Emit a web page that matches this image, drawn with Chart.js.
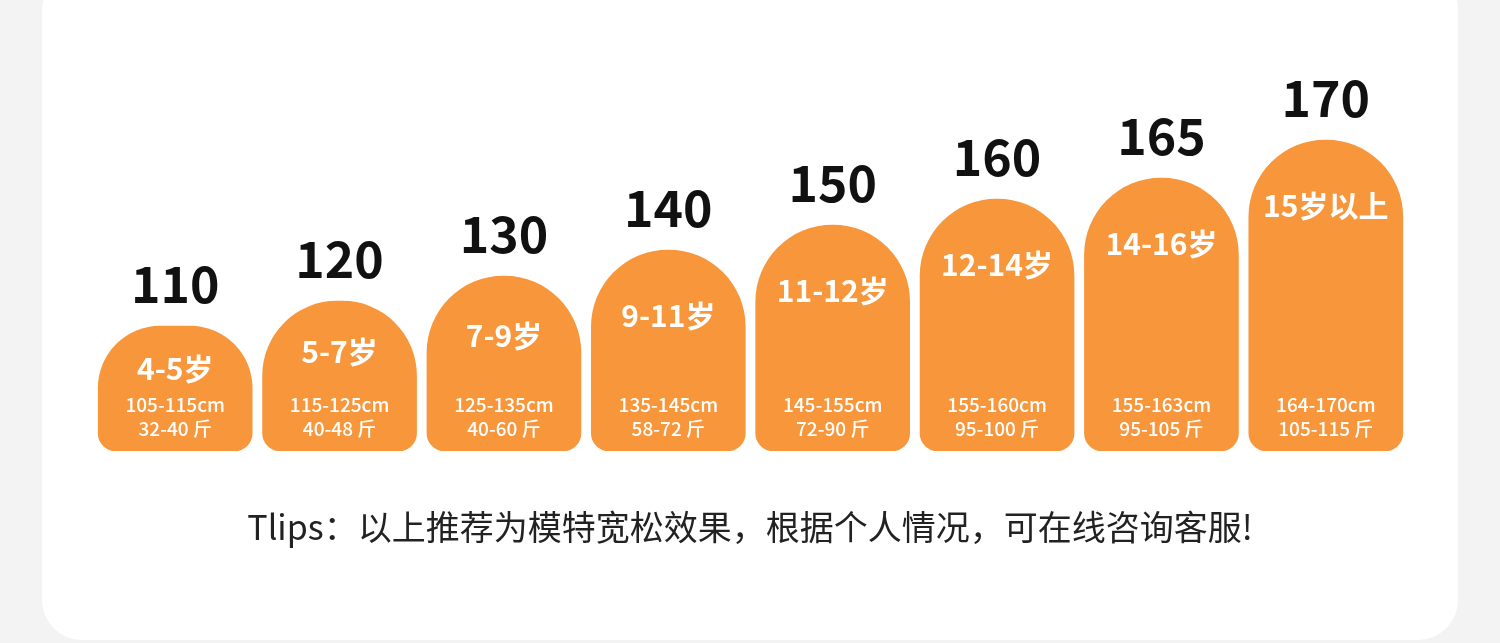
<!DOCTYPE html>
<html><head><meta charset="utf-8">
<script src="https://cdn.jsdelivr.net/npm/chart.js@4"></script>
<style>
html,body{margin:0;padding:0;background:#f3f3f3;width:1500px;height:643px;overflow:hidden;font-family:"Noto Sans CJK SC",sans-serif}
#card{position:absolute;left:42px;top:-30px;width:1416px;height:670px;background:#fff;border-radius:40px}
#wrap{position:absolute;left:0;top:0;width:1500px;height:643px}
</style></head><body>
<div id="card"></div>
<div id="wrap"><canvas id="c" width="1500" height="643"></canvas></div>
<script>
const sizes=["110","120","130","140","150","160","165","170"];
const barHeights=[125,150,175,201,226,252,273,311];
const ages=["4-5岁","5-7岁","7-9岁","9-11岁","11-12岁","12-14岁","14-16岁","15岁以上"];
const heightsCm=["105-115cm","115-125cm","125-135cm","135-145cm","145-155cm","155-160cm","155-163cm","164-170cm"];
const weights=["32-40 斤","40-48 斤","40-60 斤","58-72 斤","72-90 斤","95-100 斤","95-105 斤","105-115 斤"];
const tip="Tlips：以上推荐为模特宽松效果，根据个人情况，可在线咨询客服!";
const labelPlugin={id:'lbl',afterDatasetsDraw(ch){
 const ctx=ch.ctx;const meta=ch.getDatasetMeta(0);
 ctx.save();ctx.textAlign='center';ctx.textBaseline='middle';
 meta.data.forEach((b,i)=>{
  const top=b.y,bot=b.base,x=b.x;
  ctx.fillStyle='#111';ctx.font='bold 50px "Noto Sans CJK SC"';
  ctx.fillText(sizes[i],x,top-42);
  ctx.fillStyle='#fff';ctx.font='bold 30px "Noto Sans CJK SC"';
  ctx.fillText(ages[i],x,top+Math.min(66,(bot-top)*0.34));
  ctx.font='500 19px "Noto Sans CJK SC"';
  ctx.fillText(heightsCm[i],x,bot-46);
  ctx.fillText(weights[i],x,bot-22);
 });
 ctx.fillStyle='#222';ctx.font='34px "Noto Sans CJK SC"';
 ctx.fillText(tip,750,527);
 ctx.restore();
}};
new Chart(document.getElementById('c'),{type:'bar',
 data:{labels:sizes,datasets:[{data:barHeights,backgroundColor:'#F7963A',barThickness:154,
  borderRadius:{topLeft:77,topRight:77,bottomLeft:18,bottomRight:18},borderSkipped:false}]},
 options:{responsive:false,animation:false,events:[],
  layout:{padding:{left:93,right:92,top:0,bottom:192}},
  plugins:{legend:{display:false},tooltip:{enabled:false}},
  scales:{x:{display:false},y:{display:false,min:0,max:451}}},
 plugins:[labelPlugin]});
</script></body></html>
